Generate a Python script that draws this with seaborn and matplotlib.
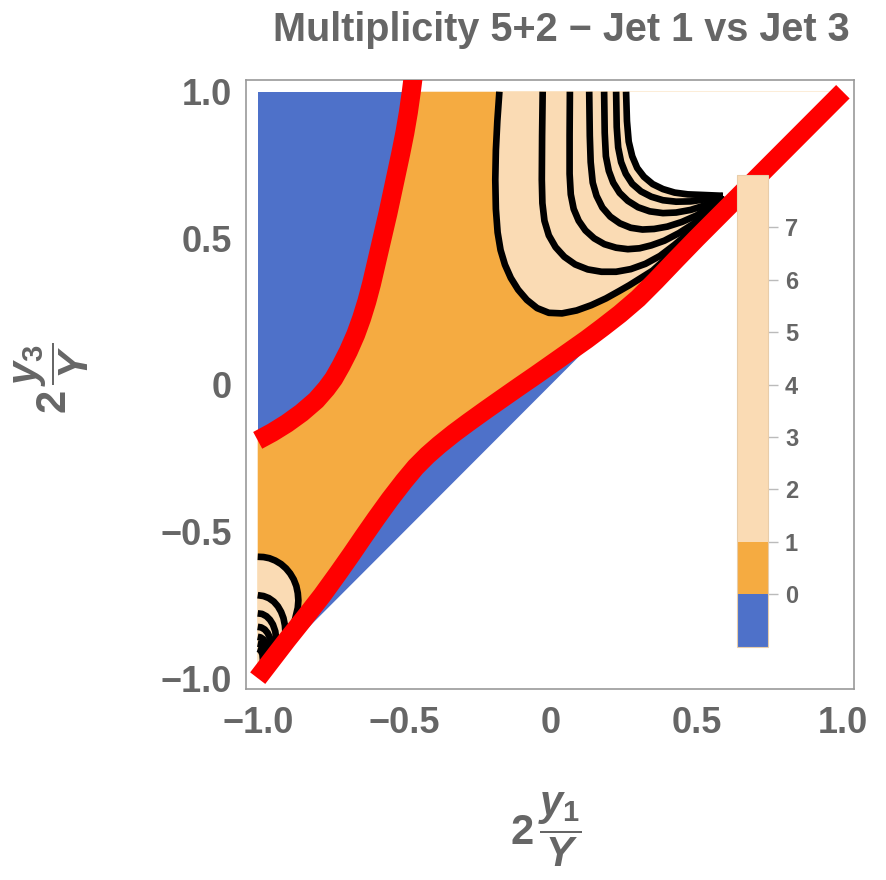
import numpy as np
import matplotlib
matplotlib.use("Agg")
import matplotlib.pyplot as plt
import seaborn as sns
from matplotlib.colors import ListedColormap, BoundaryNorm
import matplotlib.colorbar as mcolorbar
from matplotlib.ticker import MultipleLocator

# ---- values ----
title = "Multiplicity 5+2 \u2212 Jet 1 vs Jet 3"

# red zero-contour, left branch
left_red_x = [-1.0, -0.95, -0.90, -0.85, -0.80, -0.765, -0.74, -0.715, -0.69, -0.665,
              -0.645, -0.627, -0.611, -0.597, -0.583, -0.569, -0.555, -0.541, -0.526,
              -0.511, -0.497, -0.485, -0.475, -0.465]
left_red_y = [-0.189, -0.162, -0.131, -0.095, -0.052, -0.012, 0.022, 0.066, 0.115, 0.172,
              0.227, 0.285, 0.345, 0.405, 0.465, 0.525, 0.585, 0.65, 0.72,
              0.79, 0.86, 0.93, 1.0, 1.08]

# red zero-contour, lower branch
low_red_x = [-1.0, -0.95, -0.90, -0.844, -0.78, -0.725, -0.68, -0.639, -0.595, -0.548,
             -0.50, -0.46, -0.42, -0.38, -0.33, -0.28, -0.22, -0.16, -0.104, -0.05,
             0.0, 0.06, 0.124, 0.18, 0.238, 0.30, 0.36, 0.43, 0.5, 0.75, 1.0]
low_red_y = [-1.0, -0.935, -0.87, -0.80, -0.718, -0.642, -0.578, -0.518, -0.455, -0.39,
             -0.328, -0.28, -0.24, -0.205, -0.165, -0.128, -0.085, -0.043, -0.004, 0.033,
             0.068, 0.11, 0.155, 0.197, 0.242, 0.295, 0.355, 0.428, 0.5, 0.75, 1.0]

# black contours (levels 1..7), upper region
c1_x = [-0.174, -0.181, -0.186, -0.188, -0.186, -0.180, -0.170, -0.155, -0.135, -0.110,
        -0.080, -0.045, -0.005, 0.040, 0.090, 0.140, 0.190, 0.235, 0.27, 0.35, 0.45,
        0.55, 0.59]
c1_y = [1.0, 0.90, 0.80, 0.70, 0.60, 0.52, 0.46, 0.41, 0.365, 0.325,
        0.29, 0.262, 0.246, 0.244, 0.254, 0.272, 0.295, 0.32, 0.34, 0.39, 0.48,
        0.58, 0.645]
c2_x = [-0.026, -0.028, -0.029, -0.027, -0.020, -0.005, 0.018, 0.048, 0.085, 0.128,
        0.175, 0.225, 0.275, 0.325, 0.375, 0.425, 0.475, 0.525, 0.59]
c2_y = [1.0, 0.85, 0.70, 0.62, 0.56, 0.51, 0.47, 0.437, 0.411, 0.394,
        0.386, 0.386, 0.395, 0.413, 0.44, 0.478, 0.52, 0.565, 0.645]
c3_x = [0.067, 0.066, 0.066, 0.070, 0.080, 0.097, 0.120, 0.150, 0.185, 0.225, 0.265,
        0.305, 0.345, 0.39, 0.44, 0.49, 0.54, 0.59]
c3_y = [1.0, 0.85, 0.72, 0.65, 0.60, 0.56, 0.527, 0.50, 0.48, 0.468, 0.463,
        0.466, 0.476, 0.492, 0.518, 0.55, 0.592, 0.645]
c4_x = [0.133, 0.135, 0.138, 0.145, 0.158, 0.178, 0.205, 0.238, 0.275, 0.315, 0.355,
        0.40, 0.45, 0.50, 0.55, 0.59]
c4_y = [1.0, 0.85, 0.76, 0.69, 0.645, 0.605, 0.574, 0.551, 0.536, 0.53, 0.532,
        0.54, 0.556, 0.578, 0.61, 0.645]
c5_x = [0.184, 0.186, 0.190, 0.200, 0.215, 0.237, 0.265, 0.30, 0.34, 0.385, 0.43,
        0.48, 0.53, 0.59]
c5_y = [1.0, 0.86, 0.78, 0.73, 0.69, 0.655, 0.628, 0.606, 0.592, 0.586, 0.588,
        0.597, 0.613, 0.645]
c6_x = [0.225, 0.227, 0.232, 0.242, 0.258, 0.28, 0.31, 0.345, 0.385, 0.43, 0.48,
        0.53, 0.59]
c6_y = [1.0, 0.88, 0.81, 0.76, 0.72, 0.686, 0.66, 0.642, 0.630, 0.625, 0.626,
        0.633, 0.645]
c7_x = [0.259, 0.262, 0.268, 0.28, 0.297, 0.32, 0.35, 0.385, 0.425, 0.47, 0.52, 0.59]
c7_y = [1.0, 0.90, 0.83, 0.78, 0.74, 0.71, 0.685, 0.668, 0.656, 0.650, 0.648, 0.645]

# black contours, lower-left corner
a1_x = [-1.0, -0.98, -0.96, -0.94, -0.92, -0.903, -0.889, -0.877, -0.868, -0.863,
        -0.861, -0.863, -0.875]
a1_y = [-0.586, -0.587, -0.591, -0.599, -0.611, -0.626, -0.643, -0.663, -0.686, -0.71,
        -0.735, -0.76, -0.81]
a2_x = [-1.0, -0.98, -0.962, -0.945, -0.931, -0.92, -0.912, -0.907, -0.905]
a2_y = [-0.717, -0.72, -0.727, -0.739, -0.755, -0.774, -0.795, -0.82, -0.85]
a3_x = [-1.0, -0.985, -0.97, -0.958, -0.948, -0.94, -0.935]
a3_y = [-0.779, -0.781, -0.789, -0.801, -0.817, -0.84, -0.88]
a4_x = [-1.0, -0.988, -0.976, -0.966, -0.957, -0.951]
a4_y = [-0.825, -0.827, -0.834, -0.846, -0.865, -0.91]
a5_x = [-1.0, -0.99, -0.98, -0.971, -0.965, -0.962]
a5_y = [-0.859, -0.861, -0.868, -0.881, -0.90, -0.93]
a6_x = [-1.0, -0.99, -0.981, -0.975, -0.972]
a6_y = [-0.882, -0.884, -0.892, -0.91, -0.94]
a7_x = [-1.0, -0.991, -0.984, -0.98]
a7_y = [-0.90, -0.903, -0.918, -0.96]

# colour legend
bar_bounds = [-1, 0, 1, 8]
bar_ticks = [0, 1, 2, 3, 4, 5, 6, 7]
axis_ticks = [-1.0, -0.5, 0.0, 0.5, 1.0]
axis_ticklabels = ["\u22121.0", "\u22120.5", "0", "0.5", "1.0"]

BLUE = "#4E71C9"
ORANGE = "#F5AB41"
PEACH = "#FADBB4"
RED = "#FF0000"
GRAY = "#666666"

sns.set_style("white")
plt.rcParams['font.family'] = ['Liberation Sans', 'DejaVu Sans']
plt.rcParams['font.weight'] = 'bold'
plt.rcParams['mathtext.fontset'] = 'custom'
plt.rcParams['mathtext.rm'] = 'Liberation Sans:bold'
plt.rcParams['mathtext.it'] = 'Liberation Sans:italic:bold'
plt.rcParams['mathtext.bf'] = 'Liberation Sans:bold'

fig = plt.figure(figsize=(8.86, 8.80), dpi=100)
ax = fig.add_axes([246 / 886, 1 - 689 / 880, 608 / 886, 609 / 880])

# filled regions
ax.fill([-1, -1, 1], [-1, 1, 1], color=BLUE, lw=0, zorder=1)

lx = [x for x, y in zip(left_red_x, left_red_y) if y <= 1.0]
ly = [y for y in left_red_y if y <= 1.0]
ax.fill(lx + low_red_x[::-1], ly + low_red_y[::-1], color=ORANGE, lw=0, zorder=2)

ax.fill(c1_x + c7_x[::-1], c1_y + c7_y[::-1], color=PEACH, lw=0, zorder=3)
ax.fill(c7_x + [0.61, 1.0], c7_y + [0.61, 1.0], color="white", lw=0, zorder=3)
ax.fill(a1_x + [-1.0], a1_y + [-1.0], color=PEACH, lw=0, zorder=3)

# contour lines
for cx, cy in [(c1_x, c1_y), (c2_x, c2_y), (c3_x, c3_y), (c4_x, c4_y),
               (c5_x, c5_y), (c6_x, c6_y), (c7_x, c7_y),
               (a1_x, a1_y), (a2_x, a2_y), (a3_x, a3_y), (a4_x, a4_y),
               (a5_x, a5_y), (a6_x, a6_y), (a7_x, a7_y)]:
    sns.lineplot(x=cx, y=cy, ax=ax, color="black", lw=4.8, sort=False, estimator=None,
                 solid_capstyle="butt", solid_joinstyle="round", zorder=4)

for rx, ry in [(left_red_x, left_red_y), (low_red_x, low_red_y)]:
    sns.lineplot(x=rx, y=ry, ax=ax, color=RED, lw=13.7, sort=False, estimator=None,
                 solid_capstyle="butt", solid_joinstyle="round", zorder=5)

ax.set_xlim(-1.04, 1.038)
ax.set_ylim(-1.037, 1.04)
ax.set_xticks(axis_ticks)
ax.set_xticklabels(axis_ticklabels)
ax.set_yticks(axis_ticks)
ax.set_yticklabels(axis_ticklabels)
ax.xaxis.set_minor_locator(MultipleLocator(0.1))
ax.yaxis.set_minor_locator(MultipleLocator(0.1))
ax.tick_params(which="major", direction="in", length=7, width=1, color="#999999",
               labelsize=26, labelcolor=GRAY)
ax.tick_params(which="minor", direction="in", length=3.5, width=0.8, color="#bbbbbb")
ax.tick_params(axis="x", pad=12)
ax.tick_params(axis="y", pad=10)
for lab in ax.get_xticklabels() + ax.get_yticklabels():
    lab.set_fontweight("bold")
for sp in ax.spines.values():
    sp.set_color("#999999")
    sp.set_linewidth(1.2)
ax.set_xlabel("")
ax.set_ylabel("")

fig.text(561.5 / 886, 1 - 30 / 880, title, ha="center", va="center",
         fontsize=28.5, fontweight="bold", color=GRAY)
fig.text(546 / 886, 1 - 830 / 880, r"$2\,\dfrac{y_1}{Y}$", ha="center", va="center",
         fontsize=30, color=GRAY)
fig.text(52 / 886, 1 - 378 / 880, r"$2\,\dfrac{y_3}{Y}$", ha="center", va="center",
         fontsize=30, color=GRAY, rotation=90)

# colour legend bar
cax = fig.add_axes([736.7 / 886, 1 - 646.7 / 880, 31.6 / 886, 471.7 / 880])
cmap = ListedColormap([BLUE, ORANGE, PEACH])
norm = BoundaryNorm(bar_bounds, cmap.N)
cb = mcolorbar.ColorbarBase(cax, cmap=cmap, norm=norm, boundaries=bar_bounds,
                            spacing="proportional", ticks=bar_ticks)
cb.minorticks_off()
cb.outline.set_edgecolor("#E8CDAA")
cb.outline.set_linewidth(0.8)
cax.tick_params(length=7, width=1, color="#bbbbbb", labelsize=17, labelcolor=GRAY, pad=5)
for lab in cax.get_yticklabels():
    lab.set_fontweight("bold")

fig.savefig("out.png", dpi=100)
